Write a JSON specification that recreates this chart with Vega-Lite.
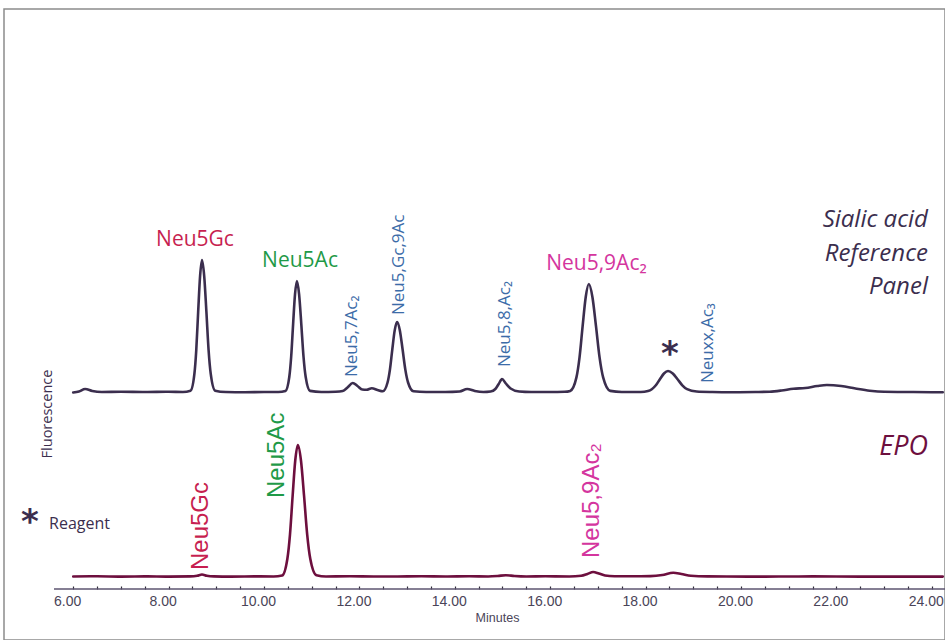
{
  "$schema": "https://vega.github.io/schema/vega-lite/v6.json",
  "autosize": {"type": "none"},
  "padding": {"left": 4, "top": 9, "right": 0, "bottom": 0},
  "width": 941,
  "height": 631,
  "background": "white",
  "config": {"view": {"stroke": "#8c8c8c", "strokeWidth": 1.5}},
  "datasets": {
    "trace": [
      {"t":6.00,"v":196.5,"series":"Reference panel"},{"t":6.12,"v":197.5,"series":"Reference panel"},{"t":6.25,"v":200,"series":"Reference panel"},{"t":6.4,"v":198,"series":"Reference panel"},{"t":6.6,"v":197,"series":"Reference panel"},{"t":7.0,"v":197.3,"series":"Reference panel"},{"t":7.5,"v":197,"series":"Reference panel"},{"t":8.0,"v":197.2,"series":"Reference panel"},{"t":8.3,"v":197,"series":"Reference panel"},{"t":8.46,"v":198.3,"series":"Reference panel"},{"t":8.54,"v":214.8,"series":"Reference panel"},{"t":8.58,"v":239,"series":"Reference panel"},{"t":8.62,"v":277.5,"series":"Reference panel"},{"t":8.66,"v":313,"series":"Reference panel"},{"t":8.70,"v":329,"series":"Reference panel"},{"t":8.746,"v":313,"series":"Reference panel"},{"t":8.792,"v":277.5,"series":"Reference panel"},{"t":8.838,"v":239,"series":"Reference panel"},{"t":8.884,"v":214.8,"series":"Reference panel"},{"t":8.976,"v":198.3,"series":"Reference panel"},{"t":9.2,"v":197,"series":"Reference panel"},{"t":9.6,"v":196.8,"series":"Reference panel"},{"t":10.0,"v":197,"series":"Reference panel"},{"t":10.3,"v":197,"series":"Reference panel"},{"t":10.45,"v":198.1,"series":"Reference panel"},{"t":10.53,"v":212,"series":"Reference panel"},{"t":10.57,"v":232.5,"series":"Reference panel"},{"t":10.61,"v":264.7,"series":"Reference panel"},{"t":10.65,"v":294.7,"series":"Reference panel"},{"t":10.69,"v":308,"series":"Reference panel"},{"t":10.736,"v":294.7,"series":"Reference panel"},{"t":10.782,"v":264.7,"series":"Reference panel"},{"t":10.828,"v":232.5,"series":"Reference panel"},{"t":10.874,"v":212,"series":"Reference panel"},{"t":10.966,"v":198.1,"series":"Reference panel"},{"t":11.2,"v":197,"series":"Reference panel"},{"t":11.5,"v":197.3,"series":"Reference panel"},{"t":11.65,"v":198,"series":"Reference panel"},{"t":11.75,"v":201.5,"series":"Reference panel"},{"t":11.86,"v":206,"series":"Reference panel"},{"t":11.96,"v":203,"series":"Reference panel"},{"t":12.06,"v":199.5,"series":"Reference panel"},{"t":12.15,"v":199.3,"series":"Reference panel"},{"t":12.26,"v":200.8,"series":"Reference panel"},{"t":12.38,"v":199,"series":"Reference panel"},{"t":12.49,"v":197.7,"series":"Reference panel"},{"t":12.59,"v":206.5,"series":"Reference panel"},{"t":12.64,"v":219.4,"series":"Reference panel"},{"t":12.69,"v":239.7,"series":"Reference panel"},{"t":12.74,"v":258.6,"series":"Reference panel"},{"t":12.79,"v":267,"series":"Reference panel"},{"t":12.848,"v":258.6,"series":"Reference panel"},{"t":12.905,"v":239.7,"series":"Reference panel"},{"t":12.963,"v":219.4,"series":"Reference panel"},{"t":13.02,"v":206.5,"series":"Reference panel"},{"t":13.135,"v":197.7,"series":"Reference panel"},{"t":13.4,"v":197,"series":"Reference panel"},{"t":13.8,"v":197,"series":"Reference panel"},{"t":14.1,"v":197.5,"series":"Reference panel"},{"t":14.26,"v":200,"series":"Reference panel"},{"t":14.42,"v":198,"series":"Reference panel"},{"t":14.6,"v":197,"series":"Reference panel"},{"t":14.75,"v":197.5,"series":"Reference panel"},{"t":14.85,"v":200,"series":"Reference panel"},{"t":14.92,"v":205,"series":"Reference panel"},{"t":14.99,"v":210,"series":"Reference panel"},{"t":15.07,"v":205.5,"series":"Reference panel"},{"t":15.17,"v":200.5,"series":"Reference panel"},{"t":15.35,"v":197.5,"series":"Reference panel"},{"t":15.6,"v":197,"series":"Reference panel"},{"t":16.0,"v":197,"series":"Reference panel"},{"t":16.3,"v":197.2,"series":"Reference panel"},{"t":16.42,"v":198.1,"series":"Reference panel"},{"t":16.55,"v":211.6,"series":"Reference panel"},{"t":16.615,"v":231.6,"series":"Reference panel"},{"t":16.68,"v":262.9,"series":"Reference panel"},{"t":16.745,"v":292,"series":"Reference panel"},{"t":16.81,"v":305,"series":"Reference panel"},{"t":16.885,"v":292,"series":"Reference panel"},{"t":16.96,"v":262.9,"series":"Reference panel"},{"t":17.035,"v":231.6,"series":"Reference panel"},{"t":17.11,"v":211.6,"series":"Reference panel"},{"t":17.26,"v":198.1,"series":"Reference panel"},{"t":17.5,"v":197,"series":"Reference panel"},{"t":17.9,"v":197,"series":"Reference panel"},{"t":18.05,"v":198,"series":"Reference panel"},{"t":18.13,"v":199.8,"series":"Reference panel"},{"t":18.215,"v":203.7,"series":"Reference panel"},{"t":18.3,"v":209.8,"series":"Reference panel"},{"t":18.385,"v":215.5,"series":"Reference panel"},{"t":18.47,"v":218,"series":"Reference panel"},{"t":18.57,"v":215.5,"series":"Reference panel"},{"t":18.67,"v":209.8,"series":"Reference panel"},{"t":18.77,"v":203.7,"series":"Reference panel"},{"t":18.87,"v":199.8,"series":"Reference panel"},{"t":19.07,"v":197.5,"series":"Reference panel"},{"t":19.4,"v":197,"series":"Reference panel"},{"t":19.8,"v":196.8,"series":"Reference panel"},{"t":20.3,"v":197,"series":"Reference panel"},{"t":20.6,"v":197.3,"series":"Reference panel"},{"t":20.85,"v":198.5,"series":"Reference panel"},{"t":21.1,"v":200.3,"series":"Reference panel"},{"t":21.35,"v":201,"series":"Reference panel"},{"t":21.6,"v":203,"series":"Reference panel"},{"t":21.8,"v":204,"series":"Reference panel"},{"t":22.1,"v":203,"series":"Reference panel"},{"t":22.4,"v":200.5,"series":"Reference panel"},{"t":22.7,"v":198.3,"series":"Reference panel"},{"t":23.0,"v":197.2,"series":"Reference panel"},{"t":23.5,"v":197,"series":"Reference panel"},{"t":24.0,"v":196.8,"series":"Reference panel"},{"t":24.23,"v":196.8,"series":"Reference panel"},
      {"t":6.0,"v":12.5,"series":"EPO"},{"t":6.5,"v":12.7,"series":"EPO"},{"t":7.0,"v":12.4,"series":"EPO"},{"t":7.5,"v":12.6,"series":"EPO"},{"t":8.0,"v":12.4,"series":"EPO"},{"t":8.45,"v":12.6,"series":"EPO"},{"t":8.6,"v":13.3,"series":"EPO"},{"t":8.70,"v":14.5,"series":"EPO"},{"t":8.8,"v":13.3,"series":"EPO"},{"t":8.95,"v":12.6,"series":"EPO"},{"t":9.3,"v":12.4,"series":"EPO"},{"t":9.8,"v":12.6,"series":"EPO"},{"t":10.2,"v":12.5,"series":"EPO"},{"t":10.38,"v":13.5,"series":"EPO"},{"t":10.49,"v":30.3,"series":"EPO"},{"t":10.545,"v":54.7,"series":"EPO"},{"t":10.60,"v":93,"series":"EPO"},{"t":10.655,"v":128.5,"series":"EPO"},{"t":10.71,"v":144,"series":"EPO"},{"t":10.775,"v":128.5,"series":"EPO"},{"t":10.84,"v":93,"series":"EPO"},{"t":10.905,"v":54.7,"series":"EPO"},{"t":10.97,"v":30.3,"series":"EPO"},{"t":11.1,"v":13.8,"series":"EPO"},{"t":11.3,"v":12.5,"series":"EPO"},{"t":11.8,"v":12.7,"series":"EPO"},{"t":12.3,"v":12.5,"series":"EPO"},{"t":12.8,"v":12.5,"series":"EPO"},{"t":13.3,"v":12.7,"series":"EPO"},{"t":13.8,"v":12.5,"series":"EPO"},{"t":14.3,"v":12.8,"series":"EPO"},{"t":14.7,"v":12.5,"series":"EPO"},{"t":14.9,"v":13,"series":"EPO"},{"t":15.07,"v":13.8,"series":"EPO"},{"t":15.25,"v":13,"series":"EPO"},{"t":15.5,"v":12.5,"series":"EPO"},{"t":15.9,"v":12.7,"series":"EPO"},{"t":16.4,"v":12.5,"series":"EPO"},{"t":16.65,"v":13.2,"series":"EPO"},{"t":16.78,"v":15,"series":"EPO"},{"t":16.9,"v":17,"series":"EPO"},{"t":17.02,"v":15.5,"series":"EPO"},{"t":17.15,"v":13.5,"series":"EPO"},{"t":17.35,"v":12.8,"series":"EPO"},{"t":17.7,"v":12.7,"series":"EPO"},{"t":18.1,"v":12.9,"series":"EPO"},{"t":18.35,"v":14,"series":"EPO"},{"t":18.58,"v":16.3,"series":"EPO"},{"t":18.75,"v":15,"series":"EPO"},{"t":18.95,"v":13.2,"series":"EPO"},{"t":19.3,"v":12.6,"series":"EPO"},{"t":19.7,"v":12.5,"series":"EPO"},{"t":20.5,"v":12.4,"series":"EPO"},{"t":21.5,"v":12.6,"series":"EPO"},{"t":22.5,"v":12.4,"series":"EPO"},{"t":23.5,"v":12.4,"series":"EPO"},{"t":24.23,"v":12.4,"series":"EPO"}
    ],
    "axisline": [{"t": 5.597, "t2": 24.277, "v": 0}],
    "labels": [
      {"t":8.553,"v":343,"text":"Neu5Gc","compound":"Neu5Gc","kind":"peak"},
      {"t":10.755,"v":322,"text":"Neu5Ac","compound":"Neu5Ac","kind":"peak"},
      {"t":16.97,"v":319,"text":"Neu5,9Ac₂","compound":"Neu5,9Ac2","kind":"peak"},
      {"t":11.845,"v":212,"text":"Neu5,7Ac₂","compound":"other","kind":"peakv"},
      {"t":12.83,"v":274,"text":"Neu5,Gc,9Ac","compound":"other","kind":"peakv"},
      {"t":15.05,"v":222,"text":"Neu5,8,Ac₂","compound":"other","kind":"peakv"},
      {"t":19.31,"v":206,"text":"Neuxx,Ac₃","compound":"other","kind":"peakv"},
      {"t":8.68,"v":19,"text":"Neu5Gc","compound":"Neu5Gc","kind":"epo"},
      {"t":10.27,"v":91,"text":"Neu5Ac","compound":"Neu5Ac","kind":"epo"},
      {"t":16.88,"v":31,"text":"Neu5,9Ac₂","compound":"Neu5,9Ac2","kind":"epo"},
      {"t":23.92,"v":362,"text":"Sialic acid","compound":"Reference panel","kind":"panel"},
      {"t":23.92,"v":328,"text":"Reference","compound":"Reference panel","kind":"panel"},
      {"t":23.92,"v":295,"text":"Panel","compound":"Reference panel","kind":"panel"},
      {"t":23.92,"v":134,"text":"EPO","compound":"EPO","kind":"panelEPO"},
      {"t":18.51,"v":244,"text":"*","compound":"Reference panel","kind":"star"},
      {"t":5.094,"v":76,"text":"*","compound":"Reference panel","kind":"star"},
      {"t":5.493,"v":60,"text":"Reagent","compound":"Reference panel","kind":"note"},
      {"t":5.472,"v":175,"text":"Fluorescence","compound":"Reference panel","kind":"ytitle"}
    ]
  },
  "encoding": {
    "x": {
      "field": "t", "type": "quantitative",
      "scale": {"domain": [4.549, 24.277], "nice": false, "zero": false},
      "axis": {
        "values": [6,6.5,7,7.5,8,8.5,9,9.5,10,10.5,11,11.5,12,12.5,13,13.5,14,14.5,15,15.5,16,16.5,17,17.5,18,18.5,19,19.5,20,20.5,21,21.5,22,22.5,23,23.5,24],
        "labelExpr": "datum.value % 2 === 0 ? format(datum.value, '.2f') : ''",
        "offset": -51,
        "domain": false,
        "grid": false,
        "tickSize": -3,
        "tickColor": "#2e2a38",
        "tickWidth": 1.2,
        "labelFont": "Liberation Sans",
        "labelFontSize": 14,
        "labelColor": "#4a4458",
        "labelPadding": 8,
        "labelOffset": -6,
        "labelFlush": false,
        "labelOverlap": false,
        "title": "Minutes",
        "titleX": 493,
        "titleFont": "Liberation Sans",
        "titleFontSize": 12.5,
        "titleFontWeight": "normal",
        "titleColor": "#4a4458",
        "titlePadding": 3
      }
    },
    "y": {
      "field": "v", "type": "quantitative",
      "scale": {"domain": [-51, 580], "nice": false, "zero": false},
      "axis": null
    }
  },
  "layer": [
    {
      "data": {"name": "axisline"},
      "mark": {"type": "rule", "color": "#5d5470", "strokeWidth": 1.6},
      "encoding": {"x2": {"field": "t2"}}
    },
    {
      "data": {"name": "trace"},
      "mark": {"type": "line", "interpolate": "monotone", "strokeWidth": 2.6, "strokeJoin": "round", "strokeCap": "round"},
      "encoding": {
        "color": {"field": "series", "type": "nominal", "legend": null,
          "scale": {"domain": ["Reference panel","EPO","Neu5Gc","Neu5Ac","Neu5,9Ac2","other"], "range": ["#3b2e4e","#6d0f3e","#c71f50","#1f9a48","#d4359e","#3c6ca8"]}}
      }
    },
    {
      "data": {"name": "labels"},
      "transform": [{"filter": "datum.kind === 'peak'"}],
      "mark": {"type": "text", "font": "Open Sans", "fontSize": 21, "align": "center", "baseline": "alphabetic"},
      "encoding": {"text": {"field": "text"}, "color": {"field": "compound", "type": "nominal", "legend": null,
          "scale": {"domain": ["Reference panel","EPO","Neu5Gc","Neu5Ac","Neu5,9Ac2","other"], "range": ["#3b2e4e","#6d0f3e","#c71f50","#1f9a48","#d4359e","#3c6ca8"]}}}
    },
    {
      "data": {"name": "labels"},
      "transform": [{"filter": "datum.kind === 'peakv'"}],
      "mark": {"type": "text", "font": "Open Sans", "fontSize": 17, "angle": 270, "align": "left", "baseline": "middle"},
      "encoding": {"text": {"field": "text"}, "color": {"field": "compound", "type": "nominal", "legend": null,
          "scale": {"domain": ["Reference panel","EPO","Neu5Gc","Neu5Ac","Neu5,9Ac2","other"], "range": ["#3b2e4e","#6d0f3e","#c71f50","#1f9a48","#d4359e","#3c6ca8"]}}}
    },
    {
      "data": {"name": "labels"},
      "transform": [{"filter": "datum.kind === 'epo'"}],
      "mark": {"type": "text", "font": "Liberation Sans", "fontSize": 24, "angle": 270, "align": "left", "baseline": "middle"},
      "encoding": {"text": {"field": "text"}, "color": {"field": "compound", "type": "nominal", "legend": null,
          "scale": {"domain": ["Reference panel","EPO","Neu5Gc","Neu5Ac","Neu5,9Ac2","other"], "range": ["#3b2e4e","#6d0f3e","#c71f50","#1f9a48","#d4359e","#3c6ca8"]}}}
    },
    {
      "data": {"name": "labels"},
      "transform": [{"filter": "datum.kind === 'panel'"}],
      "mark": {"type": "text", "font": "Open Sans", "fontSize": 24, "fontStyle": "italic", "align": "right", "baseline": "alphabetic"},
      "encoding": {"text": {"field": "text"}, "color": {"field": "compound", "type": "nominal", "legend": null,
          "scale": {"domain": ["Reference panel","EPO","Neu5Gc","Neu5Ac","Neu5,9Ac2","other"], "range": ["#3b2e4e","#6d0f3e","#c71f50","#1f9a48","#d4359e","#3c6ca8"]}}}
    },
    {
      "data": {"name": "labels"},
      "transform": [{"filter": "datum.kind === 'panelEPO'"}],
      "mark": {"type": "text", "font": "Open Sans", "fontSize": 27, "fontStyle": "italic", "align": "right", "baseline": "alphabetic"},
      "encoding": {"text": {"field": "text"}, "color": {"field": "compound", "type": "nominal", "legend": null,
          "scale": {"domain": ["Reference panel","EPO","Neu5Gc","Neu5Ac","Neu5,9Ac2","other"], "range": ["#3b2e4e","#6d0f3e","#c71f50","#1f9a48","#d4359e","#3c6ca8"]}}}
    },
    {
      "data": {"name": "labels"},
      "transform": [{"filter": "datum.kind === 'star'"}],
      "mark": {"type": "text", "font": "DejaVu Sans", "fontSize": 34, "fontWeight": "bold", "align": "center", "baseline": "middle", "dy": 10},
      "encoding": {"text": {"field": "text"}, "color": {"field": "compound", "type": "nominal", "legend": null,
          "scale": {"domain": ["Reference panel","EPO","Neu5Gc","Neu5Ac","Neu5,9Ac2","other"], "range": ["#3b2e4e","#6d0f3e","#c71f50","#1f9a48","#d4359e","#3c6ca8"]}}}
    },
    {
      "data": {"name": "labels"},
      "transform": [{"filter": "datum.kind === 'note'"}],
      "mark": {"type": "text", "font": "Open Sans", "fontSize": 16, "align": "left", "baseline": "alphabetic"},
      "encoding": {"text": {"field": "text"}, "color": {"field": "compound", "type": "nominal", "legend": null,
          "scale": {"domain": ["Reference panel","EPO","Neu5Gc","Neu5Ac","Neu5,9Ac2","other"], "range": ["#3b2e4e","#6d0f3e","#c71f50","#1f9a48","#d4359e","#3c6ca8"]}}}
    },
    {
      "data": {"name": "labels"},
      "transform": [{"filter": "datum.kind === 'ytitle'"}],
      "mark": {"type": "text", "font": "Open Sans", "fontSize": 14.5, "angle": 270, "align": "center", "baseline": "middle"},
      "encoding": {"text": {"field": "text"}, "color": {"field": "compound", "type": "nominal", "legend": null,
          "scale": {"domain": ["Reference panel","EPO","Neu5Gc","Neu5Ac","Neu5,9Ac2","other"], "range": ["#3b2e4e","#6d0f3e","#c71f50","#1f9a48","#d4359e","#3c6ca8"]}}}
    }
  ]
}
